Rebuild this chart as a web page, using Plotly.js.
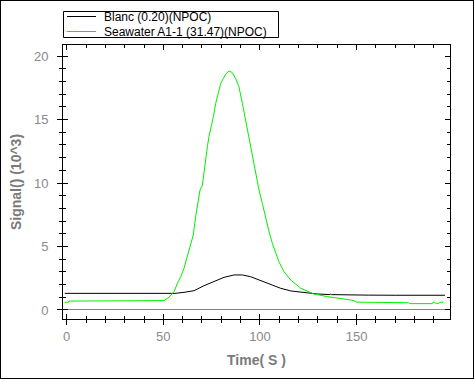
<!DOCTYPE html>
<html>
<head>
<meta charset="utf-8">
<script src="https://cdn.plot.ly/plotly-3.0.1.min.js"></script>
<style>
html,body{margin:0;padding:0;background:#fff;}
#wrap{position:relative;width:474px;height:379px;}
#plot{width:474px;height:379px;}
#frame{position:absolute;left:0;top:0;width:474px;height:379px;box-sizing:border-box;border:1px solid #000;pointer-events:none;}
</style>
</head>
<body>
<div id="wrap"><div id="plot"></div><div id="frame"></div></div>
<script>
// Series names (legend)
const seriesNames = ["Blanc (0.20)(NPOC)", "Seawater A1-1 (31.47)(NPOC)"];
const seriesColors = ["#000000", "#00f000"];

// Blanc series (time in s, signal in 10^3)
const blancTime = [-1, 56, 60.7, 65.9, 71, 76.2, 81.4, 86.6, 90.9, 95.2, 100.3, 105.5, 110.7, 115.9, 122.8, 129.7, 136.3, 136.6, 137, 145, 155.8, 156, 156.3, 170, 195.7];
const blancSignal = [1.31, 1.31, 1.39, 1.52, 1.91, 2.23, 2.57, 2.76, 2.76, 2.62, 2.31, 1.97, 1.71, 1.50, 1.36, 1.26, 1.21, 1.27, 1.21, 1.18, 1.17, 1.12, 1.17, 1.16, 1.16];

// Seawater A1-1 series
const seaTime = [-1, 1, 1.2, 49.5, 50.3, 52.9, 55.5, 57.3, 59.0, 60.7, 61.9, 63.3, 64.5, 65.5, 66.7, 67.9, 69.0, 70.2, 71.0, 71.9, 72.8, 73.6, 74.8, 75.9, 77.1, 78.0, 79.7, 81.1, 82.3, 84.0, 85.7, 87.4, 89.1, 90.9, 92.6, 94.3, 96.1, 97.8, 99.5, 101.2, 102.9, 104.7, 106.4, 108.1, 109.8, 112.4, 115.9, 121.1, 127.9, 134.9, 141.8, 146.9, 148.6, 150, 160, 176.8, 177.5, 189.2, 189.5, 190.5, 191, 192.5, 193, 194.9];
const seaSignal = [0.61, 0.61, 0.70, 0.70, 0.74, 1.0, 1.44, 2.10, 2.62, 3.28, 3.94, 4.72, 5.51, 5.91, 7.35, 8.66, 9.45, 9.84, 10.76, 12.2, 12.86, 13.65, 14.43, 15.22, 16.27, 16.8, 17.85, 18.24, 18.58, 18.82, 18.69, 18.24, 17.58, 16.28, 14.96, 13.39, 12.07, 10.76, 9.45, 8.40, 7.22, 6.17, 5.25, 4.46, 3.80, 3.02, 2.36, 1.71, 1.26, 1.05, 0.92, 0.79, 0.73, 0.62, 0.60, 0.57, 0.50, 0.50, 0.61, 0.61, 0.52, 0.52, 0.61, 0.61];

// Axis settings
const xRange = [-1.9, 198.3];
const yRange = [-0.71, 20.87];
const xTitle = "Time( S )";
const yTitle = "Signal() (10^3)";

const traces = [
  {x: blancTime, y: blancSignal, type: 'scatter', mode: 'lines', name: seriesNames[0],
   line: {color: seriesColors[0], width: 1}, showlegend: false, hoverinfo: 'skip'},
  {x: seaTime, y: seaSignal, type: 'scatter', mode: 'lines', name: seriesNames[1],
   line: {color: seriesColors[1], width: 1}, showlegend: false, hoverinfo: 'skip'},
  {x: [xRange[0]], y: [yRange[0]], xaxis: 'x2', yaxis: 'y2', type: 'scatter', mode: 'markers',
   marker: {opacity: 0}, showlegend: false, hoverinfo: 'skip'}
];

const tickFont = {family: 'Liberation Sans, Arial, sans-serif', size: 13, color: '#8a8a8a'};
const titleFont = {family: 'Liberation Sans, Arial, sans-serif', size: 14, color: '#7a7a7a', weight: 'bold'};

// Plot area geometry helpers for paper-positioned legend
const L = 63, R = 450, T = 45, B = 319;
const px = v => (v - L) / (R - L);
const py = v => (B - v) / (B - T);

const shapes = [
  {type: 'rect', xref: 'paper', yref: 'paper', x0: px(63.5), x1: px(278.5), y0: py(37.5), y1: py(11.5),
   line: {color: '#000', width: 1}, fillcolor: '#fff'},
  {type: 'line', xref: 'paper', yref: 'paper', x0: px(67), x1: px(96), y0: py(16.5), y1: py(16.5),
   line: {color: seriesColors[0], width: 1}},
  {type: 'line', xref: 'paper', yref: 'paper', x0: px(67), x1: px(96), y0: py(31.5), y1: py(31.5),
   line: {color: seriesColors[1], width: 1}}
];
const annotations = [
  {xref: 'paper', yref: 'paper', x: px(102), y: py(16.5), xanchor: 'left', yanchor: 'middle',
   text: seriesNames[0], showarrow: false, font: {family: 'Liberation Sans, Arial, sans-serif', size: 12, color: '#000'}},
  {xref: 'paper', yref: 'paper', x: px(102), y: py(31.5), xanchor: 'left', yanchor: 'middle',
   text: seriesNames[1], showarrow: false, font: {family: 'Liberation Sans, Arial, sans-serif', size: 12, color: '#000'}}
];

const layout = {
  width: 474, height: 379, autosize: false,
  margin: {l: L, r: 474 - R, t: T, b: 379 - B, pad: 0},
  paper_bgcolor: '#fff', plot_bgcolor: '#fff',
  showlegend: false,
  xaxis: {
    range: xRange, showline: true, linecolor: '#000', linewidth: 1, mirror: true,
    ticks: 'outside', ticklen: 5, tickcolor: '#000', tickwidth: 1, tick0: 0, dtick: 50,
    minor: {ticks: 'outside', ticklen: 3, tickcolor: '#000', dtick: 10, tick0: 0, showgrid: false},
    showgrid: false, zeroline: false, tickfont: tickFont,
    title: {text: xTitle, font: titleFont, standoff: 12}
  },
  yaxis: {
    range: yRange, showline: true, linecolor: '#000', linewidth: 1, mirror: true,
    ticks: 'outside', ticklen: 5, tickcolor: '#000', tickwidth: 1, tick0: 0, dtick: 5,
    minor: {ticks: 'outside', ticklen: 3, tickcolor: '#000', dtick: 1, tick0: 0, showgrid: false},
    showgrid: false, zeroline: true, zerolinecolor: '#808080', zerolinewidth: 1,
    tickfont: tickFont, ticklabelstandoff: 6,
    title: {text: yTitle, font: titleFont, standoff: 9}
  },
  xaxis2: {
    overlaying: 'x', anchor: 'y2', range: xRange, showline: false,
    ticks: 'inside', ticklen: 5, tickcolor: '#000', tick0: 0, dtick: 50, mirror: 'ticks',
    minor: {ticks: 'inside', ticklen: 3, tickcolor: '#000', dtick: 10, tick0: 0, showgrid: false},
    showgrid: false, zeroline: false, showticklabels: false
  },
  yaxis2: {
    overlaying: 'y', anchor: 'x2', range: yRange, showline: false,
    ticks: 'inside', ticklen: 5, tickcolor: '#000', tick0: 0, dtick: 5, mirror: 'ticks',
    minor: {ticks: 'inside', ticklen: 3, tickcolor: '#000', dtick: 1, tick0: 0, showgrid: false},
    showgrid: false, zeroline: false, showticklabels: false
  },
  shapes: shapes,
  annotations: annotations
};

Plotly.newPlot('plot', traces, layout, {staticPlot: true, displayModeBar: false});
</script>
</body>
</html>
